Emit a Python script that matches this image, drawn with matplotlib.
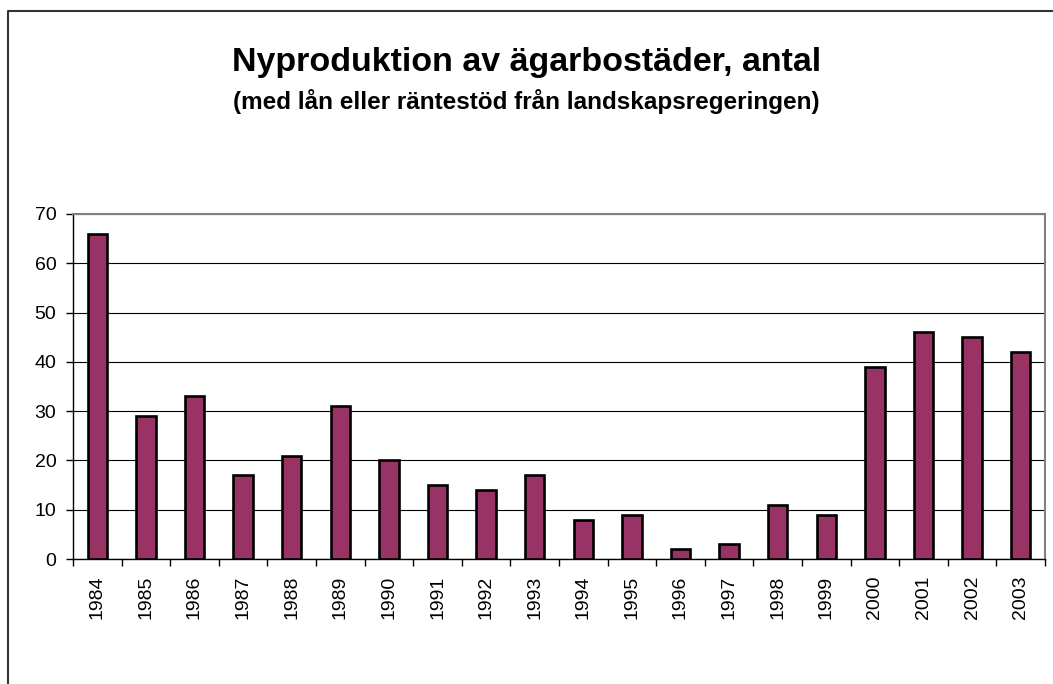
import matplotlib
matplotlib.use("Agg")
import matplotlib.pyplot as plt
from matplotlib.lines import Line2D
import numpy as np

years = ["1984", "1985", "1986", "1987", "1988", "1989", "1990", "1991", "1992", "1993",
         "1994", "1995", "1996", "1997", "1998", "1999", "2000", "2001", "2002", "2003"]
values = [66, 29, 33, 17, 21, 31, 20, 15, 14, 17, 8, 9, 2, 3, 11, 9, 39, 46, 45, 42]
yticks = [0, 10, 20, 30, 40, 50, 60, 70]

title = "Nyproduktion av ägarbostäder, antal"
subtitle = "(med lån eller räntestöd från landskapsregeringen)"

plt.rcParams['font.family'] = ['Liberation Sans', 'DejaVu Sans']

W, H = 1053, 684
fig = plt.figure(figsize=(W / 100, H / 100), dpi=100)
ax = fig.add_axes([73 / W, 1 - 559 / H, (1045 - 73) / W, (559 - 214) / H])

x = np.arange(len(years))
ax.bar(x, values, width=0.4, color="#993366", edgecolor="black", linewidth=1.9, zorder=3)

ax.set_xlim(-0.5, len(years) - 0.5)
ax.set_ylim(0, 70)
ax.set_yticks(yticks)
ax.set_yticklabels([str(v) for v in yticks], fontsize=14)
ax.yaxis.grid(True, color="black", linewidth=0.8, zorder=0)

ax.set_xticks(x)
ax.set_xticklabels(years, rotation=90, fontsize=14)
ax.tick_params(axis="x", length=0, pad=12)
ax.set_xticks(np.arange(-0.5, len(years), 1), minor=True)
ax.tick_params(axis="x", which="minor", length=5, width=1, color="black", direction="out")
ax.tick_params(axis="y", length=5, width=1, color="black", direction="out", pad=7)

for s in ["left", "bottom"]:
    ax.spines[s].set_color("black")
    ax.spines[s].set_linewidth(1.0)
for s in ["top", "right"]:
    ax.spines[s].set_color("#808080")
    ax.spines[s].set_linewidth(1.5)

fig.text(0.5, 1 - 63 / H, title, ha="center", va="center", fontsize=24.5, fontweight="bold")
fig.text(0.5, 1 - 102 / H, subtitle, ha="center", va="center", fontsize=17.5, fontweight="bold")

# outer chart frame (top and left edges visible)
fig.add_artist(Line2D([8 / W, 8 / W, 1.0], [0.0, 1 - 11 / H, 1 - 11 / H],
                      transform=fig.transFigure, color="#333333", linewidth=1.5))

fig.savefig("out.png", dpi=100)
